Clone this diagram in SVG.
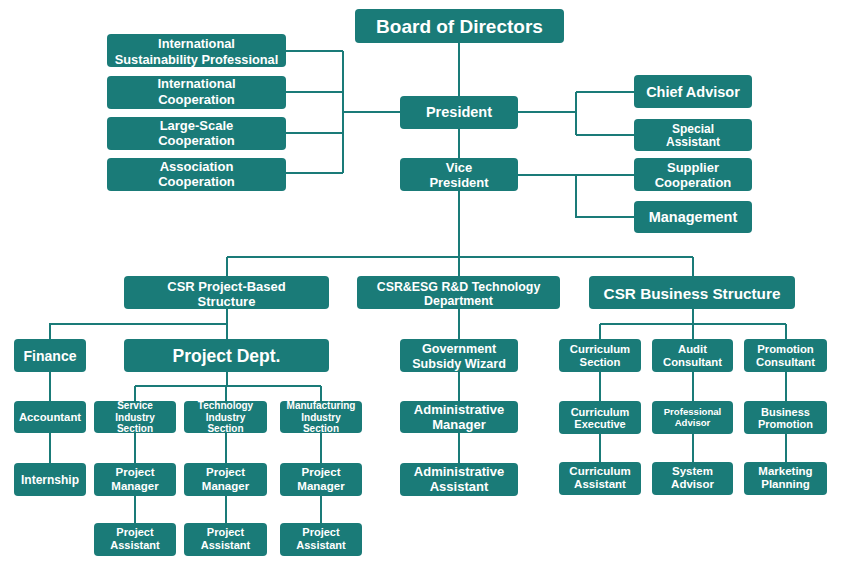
<svg xmlns="http://www.w3.org/2000/svg" width="844" height="562" viewBox="0 0 844 562">
<style>
.n rect{fill:#1a7b78;}
.n text{fill:#fff;font-family:"Liberation Sans",Arial,sans-serif;font-weight:bold;text-anchor:middle;font-size:13px;}
.c{stroke:#1a7b78;stroke-width:2;fill:none;}
.s text{font-size:10px;}
.m text{font-size:11.3px;}
</style>
<rect width="844" height="562" fill="#fff"/>
<g id="connectors" class="c">
<path d="M459 43V96M459 129V158M459 191V257M227 257H693M227 257V276M459 257V276M693 257V276"/>
<path d="M286 51H343M286 92H343M286 133H343M286 173H343M343 51V173M343 112H400"/>
<path d="M518 112H576M576 92V135M576 92H634M576 135H634M518 175H634M576 175V217H634"/>
<path d="M227 309V339M227 324H50V339M50 372V401M50 433V463"/>
<path d="M227 372V386M135 386H321M135 386V401M226 386V401M321 386V401"/>
<path d="M135 433V463M135 496V523M226 433V463M226 496V523M321 433V463M321 496V523"/>
<path d="M459 309V463"/>
<path d="M693 309V324M600 324H786M600 324V339M693 324V339M786 324V339"/>
<path d="M600 372V462M693 372V462M786 372V462"/>
</g>
<g id="board" class="n"><rect x="355" y="9" width="209" height="34" rx="4"/><text x="459.5" y="33" style="font-size:19px">Board of Directors</text></g>
<g id="isp" class="n"><rect x="107" y="34" width="179" height="33" rx="4"/><text style="font-size:12.8px"><tspan x="196.5" y="47.8">International</tspan><tspan x="196.5" y="63.5">Sustainability Professional</tspan></text></g>
<g id="intl-coop" class="n"><rect x="107" y="76" width="179" height="33" rx="4"/><text><tspan x="196.5" y="87.5">International</tspan><tspan x="196.5" y="103.5">Cooperation</tspan></text></g>
<g id="large-coop" class="n"><rect x="107" y="117" width="179" height="33" rx="4"/><text><tspan x="196.5" y="129.5">Large-Scale</tspan><tspan x="196.5" y="144.5">Cooperation</tspan></text></g>
<g id="assoc-coop" class="n"><rect x="107" y="158" width="179" height="33" rx="4"/><text><tspan x="196.5" y="171">Association</tspan><tspan x="196.5" y="186">Cooperation</tspan></text></g>
<g id="president" class="n"><rect x="400" y="96" width="118" height="33" rx="4"/><text x="459" y="117.4" style="font-size:14.5px">President</text></g>
<g id="vp" class="n"><rect x="400" y="158" width="118" height="33" rx="4"/><text><tspan x="459" y="171.8">Vice</tspan><tspan x="459" y="186.8">President</tspan></text></g>
<g id="chief-advisor" class="n"><rect x="634" y="75" width="118" height="33" rx="4"/><text x="693" y="97" style="font-size:14.5px">Chief Advisor</text></g>
<g id="special-assistant" class="n"><rect x="634" y="119" width="118" height="32" rx="4"/><text style="font-size:12px"><tspan x="693" y="132.5">Special</tspan><tspan x="693" y="146.2">Assistant</tspan></text></g>
<g id="supplier-coop" class="n"><rect x="634" y="158" width="118" height="33" rx="4"/><text><tspan x="693" y="171.8">Supplier</tspan><tspan x="693" y="186.8">Cooperation</tspan></text></g>
<g id="management" class="n"><rect x="634" y="201" width="118" height="32" rx="4"/><text x="693" y="221.9" style="font-size:14.5px">Management</text></g>
<g id="csr-project" class="n"><rect x="124" y="276" width="205" height="33" rx="4"/><text><tspan x="226.5" y="290.6">CSR Project-Based</tspan><tspan x="226.5" y="305.6">Structure</tspan></text></g>
<g id="csr-esg" class="n"><rect x="357" y="276" width="203" height="33" rx="4"/><text style="font-size:12.4px"><tspan x="458.5" y="290.8">CSR&amp;ESG R&amp;D Technology</tspan><tspan x="458.5" y="305">Department</tspan></text></g>
<g id="csr-business" class="n"><rect x="589" y="276" width="206" height="33" rx="4"/><text x="692" y="298.8" style="font-size:15.3px">CSR Business Structure</text></g>
<g id="finance" class="n"><rect x="14" y="339" width="72" height="33" rx="4"/><text x="50" y="361" style="font-size:14px">Finance</text></g>
<g id="project-dept" class="n"><rect x="124" y="339" width="205" height="33" rx="4"/><text x="226.5" y="362.3" style="font-size:17.5px">Project Dept.</text></g>
<g id="accountant" class="n"><rect x="14" y="401" width="72" height="32" rx="4"/><text x="50" y="420.7" style="font-size:11.3px">Accountant</text></g>
<g id="internship" class="n"><rect x="14" y="463" width="72" height="33" rx="4"/><text x="50" y="483.5" style="font-size:12px">Internship</text></g>
<g id="service-section" class="n s"><rect x="94" y="401" width="82" height="32" rx="4"/><text><tspan x="135" y="409.2">Service</tspan><tspan x="135" y="420.6">Industry</tspan><tspan x="135" y="432">Section</tspan></text></g>
<g id="tech-section" class="n s"><rect x="184" y="401" width="83" height="32" rx="4"/><text><tspan x="225.5" y="409.2">Technology</tspan><tspan x="225.5" y="420.6">Industry</tspan><tspan x="225.5" y="432">Section</tspan></text></g>
<g id="manuf-section" class="n s"><rect x="280" y="401" width="82" height="32" rx="4"/><text><tspan x="321" y="409.2">Manufacturing</tspan><tspan x="321" y="420.6">Industry</tspan><tspan x="321" y="432">Section</tspan></text></g>
<g id="pm-service" class="n m"><rect x="94" y="463" width="82" height="33" rx="4"/><text style="font-size:11.5px"><tspan x="135" y="476.3">Project</tspan><tspan x="135" y="489.7">Manager</tspan></text></g>
<g id="pm-tech" class="n m"><rect x="184" y="463" width="83" height="33" rx="4"/><text style="font-size:11.5px"><tspan x="225.5" y="476.3">Project</tspan><tspan x="225.5" y="489.7">Manager</tspan></text></g>
<g id="pm-manuf" class="n m"><rect x="280" y="463" width="82" height="33" rx="4"/><text style="font-size:11.5px"><tspan x="321" y="476.3">Project</tspan><tspan x="321" y="489.7">Manager</tspan></text></g>
<g id="pa-service" class="n m"><rect x="94" y="523" width="82" height="33" rx="4"/><text style="font-size:11px"><tspan x="135" y="536.2">Project</tspan><tspan x="135" y="549">Assistant</tspan></text></g>
<g id="pa-tech" class="n m"><rect x="184" y="523" width="83" height="33" rx="4"/><text style="font-size:11px"><tspan x="225.5" y="536.2">Project</tspan><tspan x="225.5" y="549">Assistant</tspan></text></g>
<g id="pa-manuf" class="n m"><rect x="280" y="523" width="82" height="33" rx="4"/><text style="font-size:11px"><tspan x="321" y="536.2">Project</tspan><tspan x="321" y="549">Assistant</tspan></text></g>
<g id="gov-subsidy" class="n"><rect x="400" y="339" width="118" height="33" rx="4"/><text style="font-size:12.6px"><tspan x="459" y="352.7">Government</tspan><tspan x="459" y="367.7">Subsidy Wizard</tspan></text></g>
<g id="admin-manager" class="n"><rect x="400" y="401" width="118" height="32" rx="4"/><text><tspan x="459" y="413.9">Administrative</tspan><tspan x="459" y="428.6">Manager</tspan></text></g>
<g id="admin-assistant" class="n"><rect x="400" y="463" width="118" height="33" rx="4"/><text><tspan x="459" y="475.5">Administrative</tspan><tspan x="459" y="491.2">Assistant</tspan></text></g>
<g id="curriculum-section" class="n m"><rect x="559" y="339" width="82" height="33" rx="4"/><text><tspan x="600" y="353">Curriculum</tspan><tspan x="600" y="366">Section</tspan></text></g>
<g id="audit-consultant" class="n m"><rect x="652" y="339" width="81" height="33" rx="4"/><text><tspan x="692.5" y="353">Audit</tspan><tspan x="692.5" y="366">Consultant</tspan></text></g>
<g id="promotion-consultant" class="n m"><rect x="744" y="339" width="83" height="33" rx="4"/><text><tspan x="785.5" y="353">Promotion</tspan><tspan x="785.5" y="366">Consultant</tspan></text></g>
<g id="curriculum-exec" class="n m"><rect x="559" y="401" width="82" height="33" rx="4"/><text style="font-size:11px"><tspan x="600" y="415.5">Curriculum</tspan><tspan x="600" y="428.2">Executive</tspan></text></g>
<g id="professional-advisor" class="n m"><rect x="652" y="401" width="81" height="33" rx="4"/><text style="font-size:9.6px"><tspan x="692.5" y="415">Professional</tspan><tspan x="692.5" y="426">Advisor</tspan></text></g>
<g id="business-promotion" class="n m"><rect x="744" y="401" width="83" height="33" rx="4"/><text style="font-size:11px"><tspan x="785.5" y="415.5">Business</tspan><tspan x="785.5" y="428.2">Promotion</tspan></text></g>
<g id="curriculum-assistant" class="n m"><rect x="559" y="462" width="82" height="33" rx="4"/><text style="font-size:11.5px"><tspan x="600" y="475">Curriculum</tspan><tspan x="600" y="488.3">Assistant</tspan></text></g>
<g id="system-advisor" class="n m"><rect x="652" y="462" width="81" height="33" rx="4"/><text style="font-size:11.5px"><tspan x="692.5" y="475">System</tspan><tspan x="692.5" y="488.3">Advisor</tspan></text></g>
<g id="marketing-planning" class="n m"><rect x="744" y="462" width="83" height="33" rx="4"/><text style="font-size:11.5px"><tspan x="785.5" y="475">Marketing</tspan><tspan x="785.5" y="488.3">Planning</tspan></text></g>
</svg>
